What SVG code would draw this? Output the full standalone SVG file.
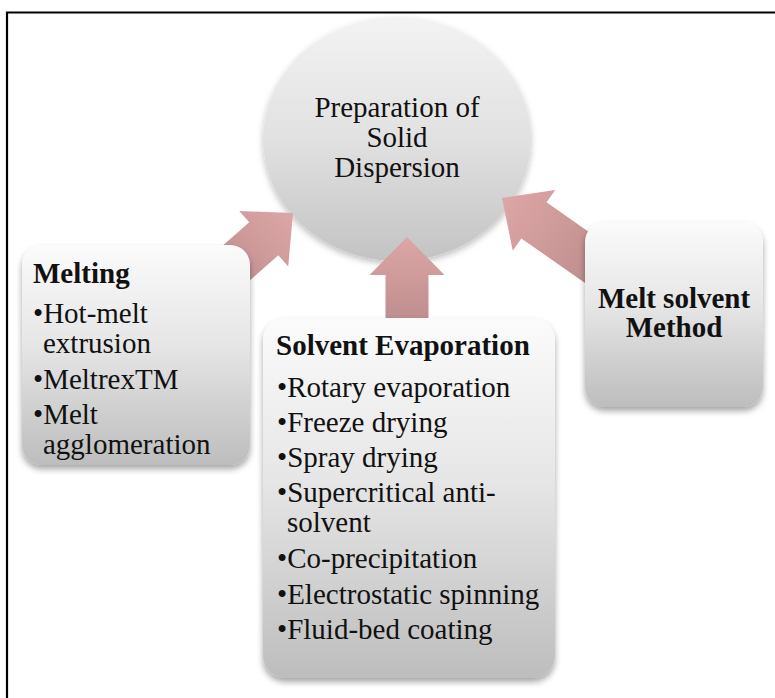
<svg xmlns="http://www.w3.org/2000/svg" width="775" height="698" viewBox="0 0 775 698">
  <defs>
    <linearGradient id="boxGrad" x1="0" y1="0" x2="0" y2="1">
      <stop offset="0" stop-color="#fbfbfb"/>
      <stop offset="0.45" stop-color="#e6e6e6"/>
      <stop offset="1" stop-color="#bdbdbd"/>
    </linearGradient>
    <linearGradient id="circGrad" x1="0" y1="0" x2="0" y2="1">
      <stop offset="0" stop-color="#f3f3f3"/>
      <stop offset="0.5" stop-color="#e1e1e1"/>
      <stop offset="1" stop-color="#c3c3c3"/>
    </linearGradient>
    <linearGradient id="arrowGrad" x1="0" y1="0" x2="1" y2="0">
      <stop offset="0" stop-color="#bd8d8d"/>
      <stop offset="1" stop-color="#dea6a6"/>
    </linearGradient>
    <filter id="shadow" x="-10%" y="-10%" width="120%" height="125%">
      <feDropShadow dx="0" dy="4" stdDeviation="3" flood-color="#000" flood-opacity="0.35"/>
    </filter>
    <filter id="shadowC" x="-10%" y="-10%" width="120%" height="125%">
      <feDropShadow dx="0" dy="3" stdDeviation="3" flood-color="#000" flood-opacity="0.25"/>
    </filter>
  </defs>
  <style>
    .box { fill: url(#boxGrad); filter: url(#shadow); }
    .arrow { fill: url(#arrowGrad); }
    .t { font-family: "Liberation Serif", "Times New Roman", serif; font-size: 29px; fill: #111; }
    .b { font-weight: bold; }
    .c { text-anchor: middle; }
  </style>
  <rect width="775" height="698" fill="#ffffff"/>
  <path d="M7,698 V12.5 H775" fill="none" stroke="#000" stroke-width="2.2"/>

  <g id="node-center">
    <ellipse cx="397" cy="139" rx="134" ry="122" fill="url(#circGrad)" filter="url(#shadowC)"/>
    <text class="t c" x="397" y="117">Preparation of</text>
    <text class="t c" x="397" y="147">Solid</text>
    <text class="t c" x="397" y="177">Dispersion</text>
  </g>

  <g id="connectors">
    <g transform="translate(293,213) rotate(-41.4)">
      <polygon class="arrow" points="0,0 -39,-37 -39,-22 -100,-22 -100,22 -39,22 -39,37"/>
    </g>
    <g transform="translate(407,237) rotate(-90)">
      <polygon class="arrow" points="0,0 -38,-37.5 -38,-21.5 -86,-21.5 -86,21.5 -38,21.5 -38,37.5"/>
    </g>
    <g transform="translate(502,198) rotate(215)">
      <polygon class="arrow" points="0,0 -39,-37 -39,-22 -125,-22 -125,22 -39,22 -39,37"/>
    </g>
  </g>

  <g id="node-melting">
    <rect class="box" x="22" y="245" width="228" height="220" rx="20" ry="20"/>
    <text class="t b" x="33" y="283">Melting</text>
    <text class="t" x="33" y="323">•Hot-melt</text>
    <text class="t" x="43" y="353">extrusion</text>
    <text class="t" x="33" y="389">•MeltrexTM</text>
    <text class="t" x="33" y="424">•Melt</text>
    <text class="t" x="43" y="454">agglomeration</text>
  </g>

  <g id="node-solvent">
    <rect class="box" x="263" y="318" width="292" height="360" rx="22" ry="22"/>
    <text class="t b" x="276" y="355">Solvent Evaporation</text>
    <text class="t" x="277" y="397">•Rotary evaporation</text>
    <text class="t" x="277" y="432">•Freeze drying</text>
    <text class="t" x="277" y="467">•Spray drying</text>
    <text class="t" x="277" y="502">•Supercritical anti-</text>
    <text class="t" x="287" y="532">solvent</text>
    <text class="t" x="277" y="568">•Co-precipitation</text>
    <text class="t" x="277" y="604">•Electrostatic spinning</text>
    <text class="t" x="277" y="639">•Fluid-bed coating</text>
  </g>

  <g id="node-meltsolvent">
    <rect class="box" x="585" y="222" width="178" height="185" rx="20" ry="20"/>
    <text class="t b c" x="674" y="308">Melt solvent</text>
    <text class="t b c" x="674" y="337">Method</text>
  </g>
</svg>
